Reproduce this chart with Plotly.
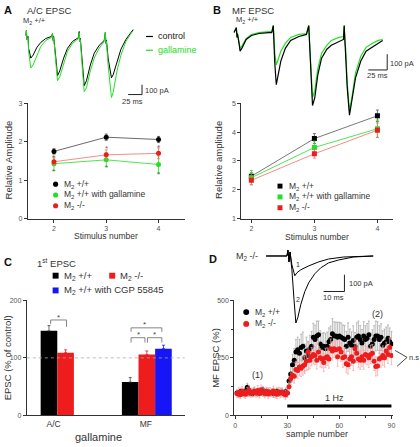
import plotly.graph_objects as go

W, H = 420, 447
FONT = "Arial, Liberation Sans, Helvetica, sans-serif"
BLACK, GREEN, RED, BLUE = "#000000", "#22e022", "#ee1c1c", "#1515f5"


def px(x):
    return x / W


def py(y):
    return 1 - y / H


# ---------------- Panel A / B : summary amplitudes ----------------
stim = [2, 3, 4]
a_wt = [1.75, 2.12, 2.06]
a_wt_err = [0.07, 0.08, 0.08]
a_gal = [1.43, 1.53, 1.41]
a_gal_err = [0.18, 0.18, 0.22]
a_ko = [1.48, 1.66, 1.70]
a_ko_err = [0.10, 0.13, 0.14]
a_star_hi = [1.60, 1.82, 1.85]
a_star_lo = [1.23, 1.33, 1.16]

b_wt = [2.47, 3.78, 4.57]
b_wt_err = [0.12, 0.17, 0.20]
b_gal = [2.42, 3.47, 4.12]
b_gal_err = [0.25, 0.22, 0.30]
b_ko = [2.33, 3.25, 4.07]
b_ko_err = [0.15, 0.15, 0.25]

# ---------------- Panel A traces (ms, pA) ----------------
tA = [0, 1, 2, 4, 5, 9, 13, 20, 27, 36, 46, 48, 49, 50, 54, 57, 61, 68, 75, 84,
      95, 96, 97, 98, 102, 105, 109, 116, 123, 132, 141, 143, 144, 145, 148, 154,
      157, 164, 171, 180, 188, 193]
iA_ctrl = [0, 50, -40, -10, -130, -230, -200, -120, -70, -30, -10, 20, -50, -10,
           -230, -410, -360, -230, -130, -60, -20, 40, -60, -30, -300, -510, -460,
           -300, -180, -100, -50, 30, -80, -50, -230, -430, -400, -260, -140, -40, 20, 60]
iA_gal = [0, 50, -40, -20, -160, -330, -300, -200, -110, -50, -20, 20, -50, -20,
          -280, -460, -420, -280, -160, -80, -30, 30, -60, -40, -360, -570, -530,
          -360, -230, -130, -60, 30, -80, -60, -300, -630, -580, -360, -200, -60, 10, 50]

# ---------------- Panel B traces (ms, pA) ----------------
tB = [-3, 0, 1, 1.5, 4, 5, 8, 13, 20, 30, 43, 47, 49, 49.5, 50, 51, 53, 55, 59, 65,
      72, 83, 93, 96, 97, 97.5, 99, 101, 104, 108, 113, 120, 126, 136, 142, 143, 144,
      145, 147, 150, 153, 158, 165, 172, 180, 188, 194]
iB_ctrl = [0, 31, -31, -6, -81, -119, -94, -44, -19, -6, 0, 0, 44, -38, -19, -194,
           -331, -288, -181, -100, -50, -25, -12, 44, -50, -69, -288, -463, -413, -269,
           -163, -106, -81, -56, -44, 44, -69, -100, -350, -525, -444, -288, -181, -119,
           -94, -69, -50]
iB_gal = [0, 31, -31, -6, -69, -100, -81, -38, -12, 0, 6, 6, 44, -38, -19, -131,
          -206, -181, -119, -69, -31, -12, -6, 44, -50, -69, -256, -413, -369, -231,
          -131, -81, -50, -31, -25, 44, -69, -100, -319, -494, -419, -256, -150, -94,
          -69, -50, -44]

# ---------------- Panel C ----------------
groups = ["A/C", "MF"]
c_wt = [147, 58]
c_wt_err = [9, 8]
c_ko = [109, 106]
c_ko_err = [5, 6]
c_cgp_group = ["MF"]
c_cgp = [116]
c_cgp_err = [6]

# ---------------- Panel D ----------------
samples = list(range(1, 91))
d_wt = [98, 92, 104, 100, 95, 108, 122, 97, 101, 94, 106, 100, 96, 103, 99, 110, 95,
        100, 104, 97, 101, 94, 99, 105, 96, 100, 102, 95, 104, 98,
        150, 180, 220, 240, 275, 285, 270, 295, 300, 250, 280, 260, 290, 300, 340, 330,
        345, 350, 310, 295, 300, 290, 300, 320, 330, 355, 345, 345, 340, 345, 340, 335,
        330, 300, 340, 315, 305, 325, 300, 340, 345, 330, 315, 345, 330, 335, 350, 300,
        310, 330, 345, 345, 330, 340, 305, 315, 320, 335, 320, 310]
d_wt_err = [12, 15, 14, 16, 13, 15, 18, 14, 15, 13, 16, 14, 15, 17, 13, 15, 14, 16, 15,
            13, 14, 16, 15, 14, 13, 15, 16, 14, 15, 17,
            25, 35, 45, 50, 55, 55, 60, 58, 62, 60, 60, 62, 58, 65, 60, 62, 65, 60, 58,
            62, 60, 65, 62, 60, 58, 65, 62, 60, 64, 60, 62, 58, 60, 65, 62, 60, 58, 64,
            60, 62, 65, 60, 58, 62, 60, 64, 60, 58, 62, 60, 65, 62, 60, 58, 62, 60, 64,
            58, 60, 55]
d_ko = [95, 100, 90, 105, 98, 92, 102, 110, 96, 100, 104, 98, 108, 95, 112, 100, 97,
        105, 93, 101, 99, 106, 95, 92, 103, 98, 100, 94, 90, 97,
        125, 160, 175, 170, 200, 195, 210, 205, 215, 220, 235, 275, 240, 255, 265, 260,
        240, 275, 250, 245, 230, 250, 255, 245, 290, 280, 290, 285, 255, 290, 275, 250,
        255, 225, 220, 245, 255, 235, 290, 270, 245, 240, 255, 240, 265, 260, 250, 265,
        270, 235, 213, 215, 245, 250, 260, 250, 280, 265, 295, 260]
d_ko_err = [18, 20, 17, 22, 19, 18, 20, 21, 17, 19, 20, 18, 22, 19, 20, 18, 21, 17, 19,
            20, 18, 21, 19, 18, 20, 22, 19, 18, 20, 19,
            20, 25, 30, 30, 35, 35, 38, 36, 40, 38, 40, 42, 38, 40, 42, 40, 38, 42, 40,
            38, 40, 42, 38, 40, 42, 40, 38, 40, 42, 38, 40, 42, 40, 38, 40, 42, 38, 40,
            42, 40, 38, 40, 42, 40, 38, 40, 42, 40, 38, 40, 42, 40, 38, 40, 42, 40, 38,
            40, 42, 40]

# D inset traces (ms, pA)
tD1 = [-10.5, -1.9, -0.5, 0, 0.5, 1, 1.4, 1.9, 2.9, 3.3, 4.3, 6.2, 10, 14.8, 19.5, 26.7, 40.9]
iD1 = [0, 0, 0, 35, -35, 24, -12, -53, -100, -118, -100, -82, -59, -35, -18, -6, 0]
tD2 = [-10.5, -1.9, -0.5, 0, 0.5, 1, 1.4, 1.9, 2.9, 3.8, 4.8, 6.2, 8.1, 10, 12.9, 15.7,
       19.5, 24.3, 31.4, 40.9]
iD2 = [0, 0, 0, 35, -35, 24, -12, -82, -259, -400, -365, -288, -212, -159, -106, -71,
       -41, -24, -6, 0]

fig = go.Figure()


def err(arr, color, sym=True):
    d = dict(type="data", array=arr, color=color, thickness=0.8, width=1.5, visible=True)
    if not sym:
        d.update(symmetric=False, arrayminus=[0] * len(arr))
    return d


# A summary
for vals, e, c, lc in [(a_wt, a_wt_err, BLACK, "#444"), (a_gal, a_gal_err, GREEN, GREEN),
                       (a_ko, a_ko_err, RED, "#f07070")]:
    fig.add_trace(go.Scatter(x=stim, y=vals, mode="lines+markers", xaxis="x", yaxis="y",
                             line=dict(color=lc, width=0.8), marker=dict(size=5, color=c),
                             error_y=err(e, lc), showlegend=False))
# B summary
for vals, e, c, lc in [(b_wt, b_wt_err, BLACK, "#555"), (b_gal, b_gal_err, GREEN, GREEN),
                       (b_ko, b_ko_err, RED, "#f07070")]:
    fig.add_trace(go.Scatter(x=stim, y=vals, mode="lines+markers", xaxis="x2", yaxis="y2",
                             line=dict(color=lc, width=0.8),
                             marker=dict(size=5, color=c, symbol="square"),
                             error_y=err(e, lc), showlegend=False))

# A traces
fig.add_trace(go.Scatter(x=tA, y=iA_ctrl, mode="lines", xaxis="x5", yaxis="y5",
                         line=dict(color=BLACK, width=1), showlegend=False))
fig.add_trace(go.Scatter(x=tA, y=iA_gal, mode="lines", xaxis="x5", yaxis="y5",
                         line=dict(color=GREEN, width=1), showlegend=False))
# B traces
fig.add_trace(go.Scatter(x=tB, y=iB_gal, mode="lines", xaxis="x6", yaxis="y6",
                         line=dict(color=GREEN, width=1.2), showlegend=False))
fig.add_trace(go.Scatter(x=tB, y=iB_ctrl, mode="lines", xaxis="x6", yaxis="y6",
                         line=dict(color=BLACK, width=1.2), showlegend=False))

# C bars
fig.add_trace(go.Bar(x=groups, y=c_wt, xaxis="x3", yaxis="y3", marker=dict(color=BLACK, line_width=0),
                     offset=[-0.14, -0.26], width=0.18, error_y=err(c_wt_err, "#444", False),
                     showlegend=False))
fig.add_trace(go.Bar(x=groups, y=c_ko, xaxis="x3", yaxis="y3", marker=dict(color=RED, line_width=0),
                     offset=[0.04, -0.08], width=0.18, error_y=err(c_ko_err, RED, False),
                     showlegend=False))
fig.add_trace(go.Bar(x=c_cgp_group, y=c_cgp, xaxis="x3", yaxis="y3", marker=dict(color=BLUE, line_width=0),
                     offset=[0.10], width=0.18, error_y=err(c_cgp_err, BLUE, False),
                     showlegend=False))

# D time course
fig.add_trace(go.Scatter(x=samples, y=d_wt, mode="markers", xaxis="x4", yaxis="y4",
                         marker=dict(size=5, color=BLACK, line_width=0),
                         error_y=dict(type="data", array=d_wt_err, color="#a0a0a0", thickness=0.7, width=1),
                         showlegend=False))
fig.add_trace(go.Scatter(x=samples, y=d_ko, mode="markers", xaxis="x4", yaxis="y4",
                         marker=dict(size=5, color=RED, line_width=0),
                         error_y=dict(type="data", array=d_ko_err, color="#f3a3a3", thickness=0.7, width=1),
                         showlegend=False))
# D inset traces
fig.add_trace(go.Scatter(x=tD1, y=iD1, mode="lines", xaxis="x7", yaxis="y7",
                         line=dict(color=BLACK, width=1), showlegend=False))
fig.add_trace(go.Scatter(x=tD2, y=iD2, mode="lines", xaxis="x7", yaxis="y7",
                         line=dict(color=BLACK, width=1), showlegend=False))

# ---------------- axes ----------------
TICKF = dict(size=7, color="#555", family=FONT)


def ax(domain, rng, anchor, **kw):
    d = dict(domain=domain, range=rng, anchor=anchor, showline=True, linecolor="#333",
             linewidth=1, ticks="outside", ticklen=3, tickwidth=1, tickcolor="#333",
             tickfont=TICKF, showgrid=False, zeroline=False, fixedrange=True)
    d.update(kw)
    return d


def hidden(domain, rng, anchor):
    return dict(domain=domain, range=rng, anchor=anchor, visible=False, showgrid=False,
                zeroline=False, fixedrange=True)


layout = dict(
    width=W, height=H, margin=dict(l=0, r=0, t=0, b=0), paper_bgcolor="white",
    plot_bgcolor="rgba(0,0,0,0)", showlegend=False, barmode="overlay",
    font=dict(family=FONT, color="#333"), hovermode=False,
    xaxis=ax([px(27), px(185)], [1.5, 4.5], "y", tickvals=[2, 3, 4]),
    yaxis=ax([py(218), py(101)], [0, 3], "x", tickvals=[0, 1, 2, 3]),
    xaxis2=ax([px(242), px(395)], [1.84, 4.25], "y2", tickvals=[2, 3, 4]),
    yaxis2=ax([py(218), py(101)], [1, 5], "x2", tickvals=[1, 2, 3, 4, 5]),
    xaxis3=ax([px(26), px(185)], [-0.29, 1.42], "y3", type="category",
              categoryorder="array", categoryarray=groups, ticks="",
              tickfont=dict(size=8.5, color="#333", family=FONT)),
    yaxis3=ax([py(418), py(301)], [0, 200], "x3", tickvals=[0, 100, 200]),
    xaxis4=ax([px(235), px(395)], [-0.5, 91], "y4", tickvals=[0, 30, 60, 90],
              minor=dict(dtick=15, ticks="outside", ticklen=2, tickcolor="#333")),
    yaxis4=ax([py(418), py(301)], [0, 500], "x4", tickvals=[0, 250, 500],
              minor=dict(dtick=125, ticks="outside", ticklen=2, tickcolor="#333")),
    xaxis5=hidden([px(20), px(150)], [-8.93, 223.2], "y5"),
    yaxis5=hidden([py(100), py(20)], [-680, 120], "x5"),
    xaxis6=hidden([px(230), px(400)], [-9.21, 214.5], "y6"),
    yaxis6=hidden([py(120), py(15)], [-568.75, 87.5], "x6"),
    xaxis7=hidden([px(262), px(380)], [-12.86, 43.33], "y7"),
    yaxis7=hidden([py(330), py(245)], [-435, 64.7], "x7"),
)
fig.update_layout(**layout)

ann = []


def txt(x, y, s, size=8, color="#333", xa="left", ya="middle", angle=0, bold=False):
    ann.append(dict(x=px(x), y=py(y), xref="paper", yref="paper",
                    text=("<b>%s</b>" % s) if bold else s, showarrow=False,
                    font=dict(size=size, color=color, family=FONT), xanchor=xa, yanchor=ya,
                    textangle=angle, borderpad=0))


shapes = []


def pline(x0, y0, x1, y1, color="#333", w=1, dash=None):
    d = dict(type="line", xref="paper", yref="paper", x0=px(x0), y0=py(y0), x1=px(x1),
             y1=py(y1), line=dict(color=color, width=w))
    if dash:
        d["line"]["dash"] = dash
    shapes.append(d)


def dot(x, y, c, r=2.6, kind="circle"):
    if kind == "circle":
        shapes.append(dict(type="circle", xref="paper", yref="paper", x0=px(x - r), x1=px(x + r),
                           y0=py(y + r), y1=py(y - r), fillcolor=c, line_width=0))
    else:
        shapes.append(dict(type="rect", xref="paper", yref="paper", x0=px(x - r), x1=px(x + r),
                           y0=py(y + r), y1=py(y - r), fillcolor=c, line_width=0))


M2 = "M<sub>2</sub>"

# Panel letters
txt(2, 6, "A", 11, "#111", bold=True)
txt(213, 6, "B", 11, "#111", bold=True)
txt(2, 262, "C", 11, "#111", bold=True)
txt(208, 259, "D", 11, "#111", bold=True)

# Panel A texts
txt(25, 7, "A/C EPSC", 9.5)
txt(21, 17, M2 + " +/+", 7.5)
pline(146, 33, 153, 33, BLACK, 1.2)
txt(157, 33, "control", 9, "#222")
pline(146, 47, 153, 47, GREEN, 1.2)
txt(157, 47, "gallamine", 9, GREEN)
txt(144, 88, "100 pA", 7.5)
txt(132, 99, "25 ms", 7.5, xa="center")
shapes += [
    dict(type="line", xref="x5", yref="y5", x0=209, x1=209, y0=-500, y1=-600, line=dict(color="#222", width=1)),
    dict(type="line", xref="x5", yref="y5", x0=184, x1=209, y0=-600, y1=-600, line=dict(color="#222", width=1)),
]
txt(8, 158, "Relative Amplitude", 9.5, angle=-90, xa="center")
txt(106, 236, "Stimulus number", 8.5, xa="center")
for xs, ys in zip(stim, a_star_hi):
    ann.append(dict(x=xs, y=ys, xref="x", yref="y", text="*", showarrow=False,
                    font=dict(size=8, color="#666", family=FONT)))
for xs, ys in zip(stim, a_star_lo):
    ann.append(dict(x=xs, y=ys, xref="x", yref="y", text="*", showarrow=False,
                    font=dict(size=8, color="#666", family=FONT)))
for i, (lab, c) in enumerate([(M2 + " +/+", BLACK), (M2 + " +/+ with gallamine", GREEN), (M2 + " -/-", RED)]):
    dot(55, 183 + 11 * i, c)
    txt(62, 183 + 11 * i, lab, 8.5)

# Panel B texts
txt(232, 7, "MF EPSC", 9.5)
txt(236, 16, M2 + " +/+", 7.5)
shapes += [
    dict(type="line", xref="x6", yref="y6", x0=200, x1=200, y0=-137.5, y1=-237.5, line=dict(color="#222", width=1)),
    dict(type="line", xref="x6", yref="y6", x0=175, x1=200, y0=-237.5, y1=-237.5, line=dict(color="#222", width=1)),
]
txt(391, 60, "100 pA", 7.5)
txt(379, 73, "25 ms", 7.5, xa="center")
txt(219, 158, "Relative amplitude", 9.5, angle=-90, xa="center")
txt(318, 237, "Stimulus number", 8.5, xa="center")
for i, (lab, c) in enumerate([(M2 + " +/+", BLACK), (M2 + " +/+ with gallamine", GREEN), (M2 + " -/-", RED)]):
    dot(281, 185 + 11 * i, c, 2.5, "rect")
    txt(289, 185 + 11 * i, lab, 8.5)

# Panel C texts
txt(35, 263, "1<sup>st</sup> EPSC", 9.5)
dot(55, 276, BLACK, 3, "rect")
txt(62, 276, M2 + " +/+", 9.5)
dot(112, 276, RED, 3, "rect")
txt(119, 276, M2 + " -/-", 9.5)
dot(55, 291, BLUE, 3, "rect")
txt(62, 291, M2 + " +/+ with CGP 55845", 9.5)
txt(6, 359, "EPSC (% of control)", 9.5, angle=-90, xa="center")
txt(98, 440, "gallamine", 11, xa="center")
shapes.append(dict(type="line", xref="x3 domain", yref="y3", x0=0, x1=1, y0=100, y1=100,
                   line=dict(color="#aaa", width=0.8, dash="dot")))
# significance brackets
pline(50, 321, 66, 321, "#666", 0.8)
pline(50, 321, 50, 325, "#666", 0.8)
pline(66, 321, 66, 328, "#666", 0.8)
txt(57.5, 318, "*", 8, "#444", xa="center")
pline(131, 329, 162, 329, "#666", 0.8)
pline(131, 329, 131, 333, "#666", 0.8)
pline(162, 329, 162, 333, "#666", 0.8)
txt(144.5, 326, "*", 8, "#444", xa="center")
pline(131, 339, 145, 339, "#666", 0.8)
pline(131, 339, 131, 344, "#666", 0.8)
pline(145, 339, 145, 344, "#666", 0.8)
pline(147.5, 339, 162, 339, "#666", 0.8)
pline(147.5, 339, 147.5, 344, "#666", 0.8)
pline(162, 339, 162, 344, "#666", 0.8)
txt(138, 336, "*", 8, "#444", xa="center")
txt(154.5, 336, "*", 8, "#444", xa="center")

# Panel D texts
txt(236, 257, M2 + " -/-", 9)
shapes += [
    dict(type="line", xref="x7", yref="y7", x0=27.1, x1=27.1, y0=-112, y1=-212, line=dict(color="#222", width=1)),
    dict(type="line", xref="x7", yref="y7", x0=17.1, x1=27.1, y0=-212, y1=-212, line=dict(color="#222", width=1)),
]
ann.append(dict(x=4.8, y=-53, xref="x7", yref="y7", text="1", showarrow=False,
                font=dict(size=7, color="#333", family=FONT)))
ann.append(dict(x=4.8, y=-259, xref="x7", yref="y7", text="2", showarrow=False,
                font=dict(size=7, color="#333", family=FONT)))
txt(349, 284, "100 pA", 7.5)
txt(335, 298, "10 ms", 7.5, xa="center")
txt(216, 359, "MF EPSC (%)", 9.5, angle=-90, xa="center")
txt(318, 437, "sample number", 9, xa="center")
dot(247, 313, BLACK, 3)
txt(255, 313, M2 + " +/+", 8.5)
dot(247, 325, RED, 3)
txt(255, 325, M2 + " -/-", 8.5)
txt(258, 377, "(1)", 9, xa="center")
txt(379, 315, "(2)", 9, xa="center")
txt(336, 400, "1 Hz", 9, xa="center")
shapes.append(dict(type="line", xref="x4", yref="paper", x0=30, x1=90, y0=py(408.5), y1=py(408.5),
                   line=dict(color="#000", width=3)))
pline(397, 352, 409, 359, "#333", 0.9)
pline(409, 359, 399, 368, "#333", 0.9)
txt(410, 359, "n.s", 7.5)

fig.update_layout(annotations=ann, shapes=shapes)
fig.write_html("out.html", config={"displayModeBar": False, "staticPlot": True},
               post_script="document.body.style.margin='0px';document.body.style.overflow='hidden';")
